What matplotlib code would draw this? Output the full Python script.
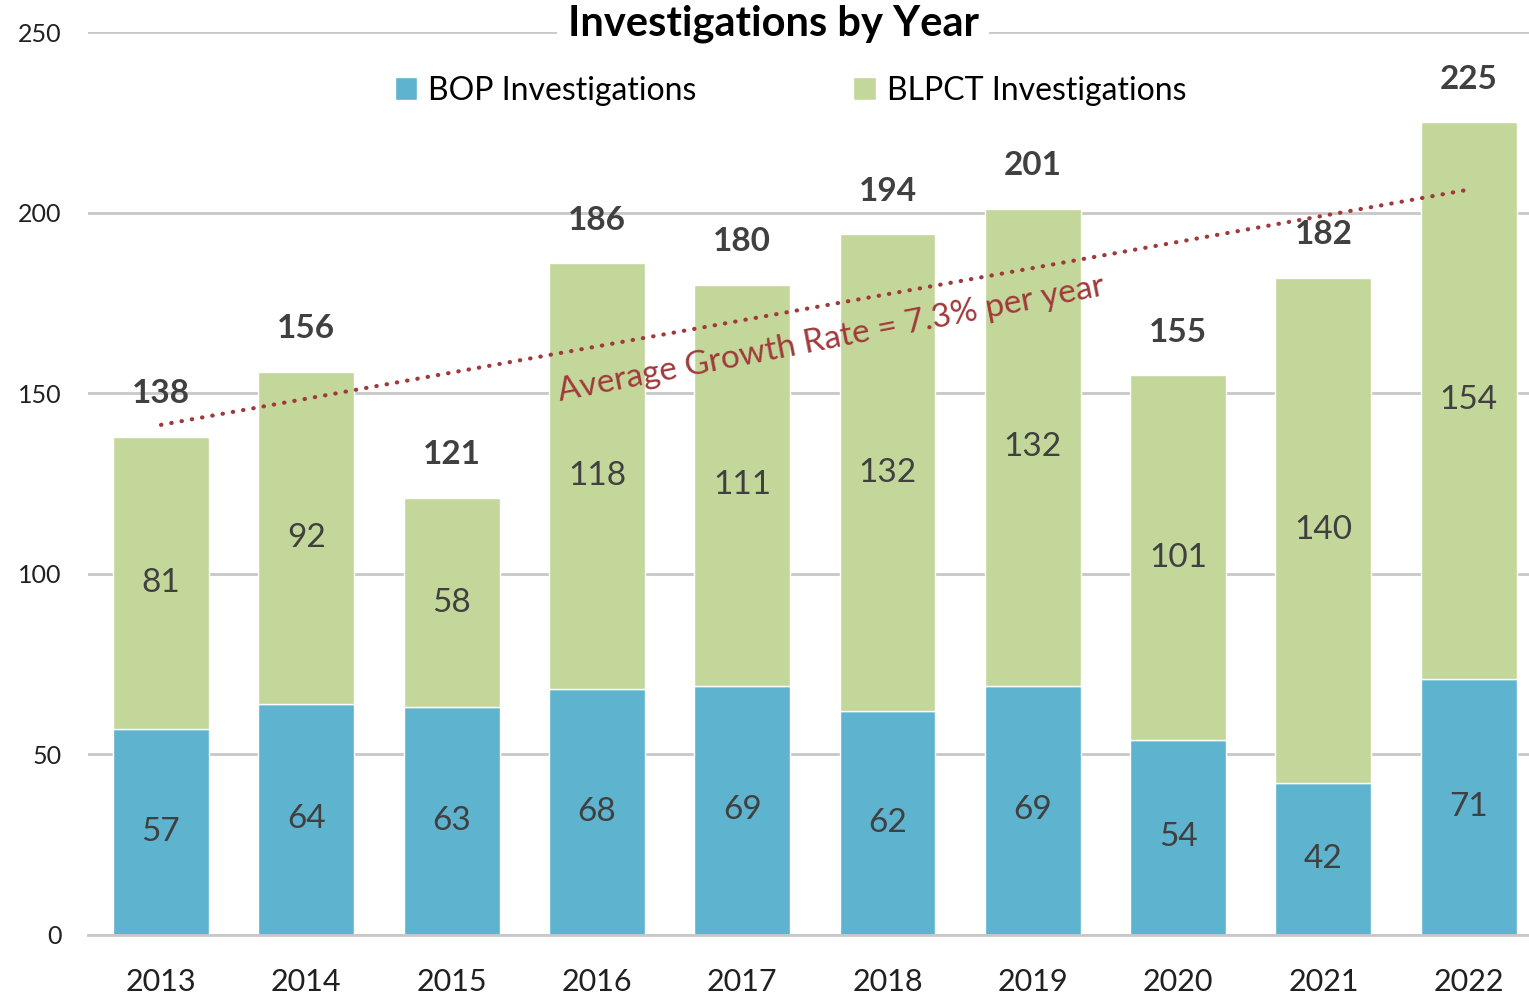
import numpy as np
import matplotlib
matplotlib.use("Agg")
import matplotlib.pyplot as plt

plt.rcParams['font.family'] = ['Lato', 'DejaVu Sans']

#-----data-----#
years = ["2013", "2014", "2015", "2016", "2017", "2018", "2019", "2020", "2021", "2022"]
bop = [57, 64, 63, 68, 69, 62, 69, 54, 42, 71]
blpct = [81, 92, 58, 118, 111, 132, 132, 101, 140, 154]
totals = [138, 156, 121, 186, 180, 194, 201, 155, 182, 225]
yticks = [0, 50, 100, 150, 200, 250]
#-----data-----#

blue = "#5EB3CE"
green = "#C4D79B"
red = "#A0393B"
txt = "#404040"
grid = "#C8C8C8"

x = np.arange(len(years))

fig = plt.figure(figsize=(15.29, 9.97), dpi=100)
ax = fig.add_axes([0.0576, 0.0622, 0.9424, 0.9057])

ax.bar(x, bop, width=0.66, color=blue, edgecolor="white", linewidth=1, zorder=2, label="BOP Investigations")
ax.bar(x, blpct, bottom=bop, width=0.66, color=green, edgecolor="white", linewidth=1, zorder=2, label="BLPCT Investigations")

# segment labels
for i in range(len(years)):
    ax.text(x[i], bop[i] / 2, str(bop[i]), ha="center", va="center", fontsize=24, color=txt, zorder=4)
    ax.text(x[i], bop[i] + blpct[i] / 2, str(blpct[i]), ha="center", va="center", fontsize=24, color=txt, zorder=4)
    ax.annotate(str(totals[i]), (x[i], totals[i]), xytext=(0, 31), textcoords="offset points",
                ha="center", va="center", fontsize=24, fontweight="bold", color=txt, zorder=4)

# linear trendline like the excel one
k, b = np.polyfit(x, totals, 1)
ax.plot([x[0], x[-1]], [b, b + k * x[-1]], color=red, lw=3, linestyle=(0, (0.1, 2.4)),
        dash_capstyle="round", zorder=3)
ax.text(4.61, 165, "Average Growth Rate = 7.3% per year", color=red, fontsize=24,
        rotation=11, rotation_mode="anchor", ha="center", va="center", zorder=4)

ax.set_xlim(-0.502, 9.415)
ax.set_ylim(0, 250)
ax.set_yticks(yticks)
ax.set_xticks(x)
ax.set_xticklabels(years)
ax.yaxis.grid(True, color=grid, lw=2, zorder=0)
ax.set_axisbelow(True)
for s in ["top", "right", "left"]:
    ax.spines[s].set_visible(False)
ax.spines["bottom"].set_color(grid)
ax.spines["bottom"].set_linewidth(2)
ax.tick_params(axis="y", length=0, pad=19, labelsize=18, labelcolor="#202020")
ax.tick_params(axis="x", length=0, pad=24, labelsize=22, labelcolor="#202020")

fig.text(0.5056, 0.976, "Investigations by Year", ha="center", va="center", fontsize=30,
         fontweight="bold", color="black", bbox=dict(boxstyle="square,pad=0.25", fc="white", ec="none"))

fig.legend(loc="center", bbox_to_anchor=(0.517, 0.909), ncol=2, frameon=False, fontsize=23,
           handlelength=0.7, handleheight=0.7, handletextpad=0.35, columnspacing=4.9)

fig.savefig("out.png", dpi=100)
